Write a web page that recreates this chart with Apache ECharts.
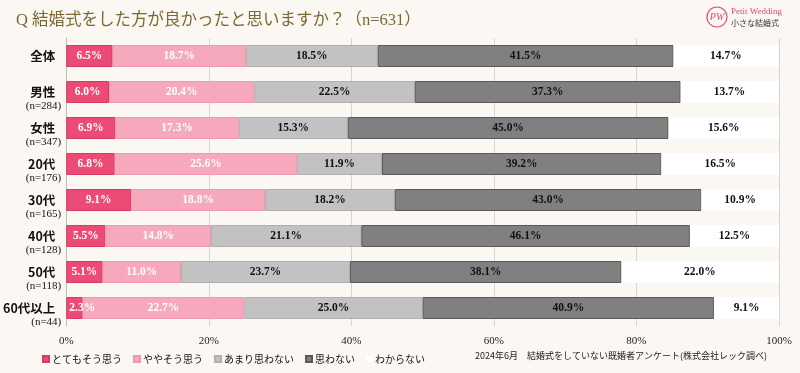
<!DOCTYPE html>
<html>
<head>
<meta charset="utf-8">
<script src="https://cdn.jsdelivr.net/npm/echarts@6/dist/echarts.min.js"></script>
<style>
html,body{margin:0;padding:0;background:#FBF8F4;}
#chart{width:800px;height:373px;}
</style>
</head>
<body>
<div id="chart"></div>
<script>
const categories = ['全体','男性','女性','20代','30代','40代','50代','60代以上'];
const sampleSizes = ['', '(n=284)', '(n=347)', '(n=176)', '(n=165)', '(n=128)', '(n=118)', '(n=44)'];
const seriesNames = ['とてもそう思う','ややそう思う','あまり思わない','思わない','わからない'];
const veryMuch = [6.5, 6.0, 6.9, 6.8, 9.1, 5.5, 5.1, 2.3];
const somewhat = [18.7, 20.4, 17.3, 25.6, 18.8, 14.8, 11.0, 22.7];
const notMuch = [18.5, 22.5, 15.3, 11.9, 18.2, 21.1, 23.7, 25.0];
const notAtAll = [41.5, 37.3, 45.0, 39.2, 43.0, 46.1, 38.1, 40.9];
const unsure = [14.7, 13.7, 15.6, 16.5, 10.9, 12.5, 22.0, 9.1];
const xTicks = [0, 20, 40, 60, 80, 100];

const serif = '"Liberation Serif","DejaVu Serif","Noto Sans CJK JP",serif';
const sans = '"Noto Sans CJK JP","Noto Sans",sans-serif';

const colors = ['#EC4B75', '#F6A9BD', '#C2C2C2', '#808080', '#FFFFFF'];
const borders = ['#D93A63', '#F197AE', '#B0B0B0', '#5A5A5A', '#FFFFFF'];
const labelColors = ['#FFFFFF', '#FFFFFF', '#111111', '#111111', '#111111'];
const allData = [veryMuch, somewhat, notMuch, notAtAll, unsure];

const chart = echarts.init(document.getElementById('chart'));
chart.setOption({
  backgroundColor: '#FBF8F4',
  animation: false,
  title: {
    text: 'Q 結婚式をした方が良かったと思いますか？（n=631）',
    left: 11, top: 7,
    textStyle: { fontFamily: serif, fontSize: 16.5, fontWeight: 'normal', color: '#7B6830' }
  },
  legend: {
    left: 37, top: 349,
    itemWidth: 6, itemHeight: 6, itemGap: 11,
    icon: 'rect',
    textStyle: { fontFamily: sans, fontSize: 10, color: '#111', padding: [0,0,0,-2] },
    data: seriesNames
  },
  grid: { left: 66, right: 21, top: 38, bottom: 47, containLabel: false },
  xAxis: {
    type: 'value', min: 0, max: 100, interval: 20,
    axisLine: { show: false },
    axisTick: { show: false },
    splitLine: { show: true, lineStyle: { color: '#D6D6D6', width: 1 } },
    axisLabel: {
      margin: 10,
      fontFamily: serif, fontSize: 11, color: '#222',
      formatter: function (v) { return xTicks.indexOf(v) >= 0 ? v + '%' : ''; }
    }
  },
  yAxis: {
    type: 'category', inverse: true,
    data: categories,
    axisLine: { show: true, lineStyle: { color: '#BDBDBD' } },
    axisTick: { show: false },
    axisLabel: {
      margin: 5,
      padding: [14, 0, 0, 0],
      formatter: function (v, i) {
        return '{a|' + v + '}\n{b|' + (sampleSizes[i] || ' ') + '}';
      },
      rich: {
        a: { fontFamily: sans, fontSize: 12.5, fontWeight: 'bold', color: '#111', lineHeight: 14, align: 'right', padding: [0, 6, 0, 0] },
        b: { fontFamily: serif, fontSize: 11, color: '#111', lineHeight: 14, align: 'right' }
      }
    }
  },
  graphic: [
    { type: 'circle', shape: { cx: 717, cy: 17, r: 10 }, style: { fill: 'none', stroke: '#E9457A', lineWidth: 1.2 } },
    { type: 'text', x: 717, y: 17, style: { text: 'PW', fill: '#E9457A', font: 'italic 10px "Liberation Serif"', align: 'center', verticalAlign: 'middle' } },
    { type: 'text', x: 731, y: 7, style: { text: 'Petit Wedding', fill: '#E9457A', font: '9px "Liberation Serif"' } },
    { type: 'text', x: 731, y: 19, style: { text: '小さな結婚式', fill: '#333', font: '8px "Noto Sans CJK JP"' } },
    { type: 'text', x: 475, y: 351, style: { text: '2024年6月　結婚式をしていない既婚者アンケート(株式会社レック調べ)', fill: '#222', font: '9px "Noto Sans CJK JP"' } }
  ],
  series: seriesNames.map(function (name, k) {
    return {
      name: name,
      type: 'bar',
      stack: 'total',
      barWidth: 22,
      data: allData[k].map(function (v) {
        return v < 4 ? { value: v, label: { position: 'insideLeft', offset: [-2, 0] } } : v;
      }),
      itemStyle: { color: colors[k], borderColor: borders[k], borderWidth: k === 4 ? 0 : 1 },
      label: {
        show: true, position: 'inside',
        formatter: function (p) { return p.value.toFixed(1) + '%'; },
        fontFamily: serif, fontSize: 11.5, fontWeight: 'bold', color: labelColors[k]
      }
    };
  })
});
</script>
</body>
</html>
